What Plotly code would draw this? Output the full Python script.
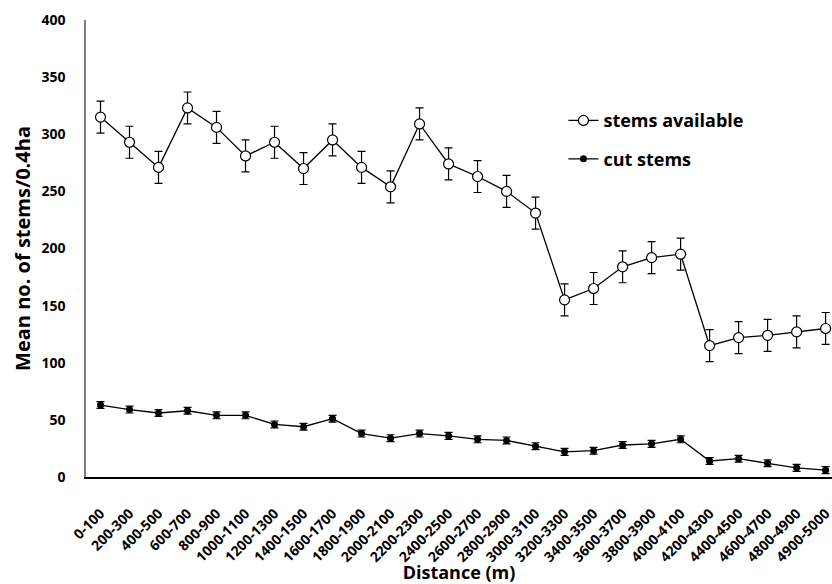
import plotly.graph_objects as go

# Distance classes (m) along the transect
distance = ["0-100", "200-300", "400-500", "600-700", "800-900", "1000-1100",
            "1200-1300", "1400-1500", "1600-1700", "1800-1900", "2000-2100",
            "2200-2300", "2400-2500", "2600-2700", "2800-2900", "3000-3100",
            "3200-3300", "3400-3500", "3600-3700", "3800-3900", "4000-4100",
            "4200-4300", "4400-4500", "4600-4700", "4800-4900", "4900-5000"]

# Mean stems per 0.4 ha and standard errors
stems_available = [315, 293, 271, 323, 306, 281, 293, 270, 295, 271, 254,
                   309, 274, 263, 250, 231, 155, 165, 184, 192, 195,
                   115, 122, 124, 127, 130]
stems_available_err = [14, 14, 14, 14, 14, 14, 14, 14, 14, 14, 14,
                       14, 14, 14, 14, 14, 14, 14, 14, 14, 14,
                       14, 14, 14, 14, 14]

cut_stems = [63, 59, 56, 58, 54, 54, 46, 44, 51, 38, 34,
             38, 36, 33, 32, 27, 22, 23, 28, 29, 33,
             14, 16, 12, 8, 6]
cut_stems_err = [3, 3, 3, 3, 3, 3, 3, 3, 3, 3, 3,
                 3, 3, 3, 3, 3, 3, 3, 3, 3, 3,
                 3, 3, 3, 3, 3]

FONT = "Open Sans"

fig = go.Figure()
fig.add_trace(go.Scatter(
    x=distance, y=stems_available, name="stems available",
    legendgroup="avail",
    mode="lines+markers",
    line=dict(color="black", width=1.3),
    marker=dict(symbol="circle", size=10, color="white",
                line=dict(color="black", width=1.2)),
    error_y=dict(type="data", array=stems_available_err, color="black",
                 thickness=1.2, width=4),
))
fig.add_trace(go.Scatter(
    x=distance, y=cut_stems, name="cut stems",
    legendgroup="cut",
    mode="lines+markers",
    line=dict(color="black", width=1.3),
    marker=dict(symbol="circle", size=7, color="black"),
    error_y=dict(type="data", array=cut_stems_err, color="black",
                 thickness=1.2, width=4),
))

fig.update_layout(
    width=832, height=584,
    margin=dict(l=86, r=0, t=20, b=107),
    plot_bgcolor="white", paper_bgcolor="white",
    font=dict(family=FONT, color="black"),
    showlegend=True,
    legend=dict(x=0.64, y=0.82, xanchor="left", yanchor="top",
                bgcolor="rgba(0,0,0,0)", tracegroupgap=12,
                font=dict(family=FONT, size=18, color="black", weight="bold"),
                itemwidth=30),
    xaxis=dict(
        type="category", range=[-0.5, 25.22], automargin=False,
        tickangle=-45, showgrid=False, ticks="",
        ticklabelstandoff=21,
        showline=True, linecolor="black", linewidth=1.5,
        tickfont=dict(family=FONT, size=14, weight="bold"),
        title=dict(text="Distance (m)", standoff=3,
                   font=dict(family=FONT, size=18, weight="bold")),
    ),
    yaxis=dict(
        range=[0, 400], dtick=50, showgrid=False, zeroline=False,
        ticks="", ticklabelstandoff=16, automargin=False,
        showline=True, linecolor="#808080", linewidth=1.5,
        tickfont=dict(family=FONT, size=14, weight="bold"),
        title=dict(text="Mean no. of stems/0.4ha", standoff=5,
                   font=dict(family=FONT, size=20, weight="bold")),
    ),
)

fig.write_html("out.html")
